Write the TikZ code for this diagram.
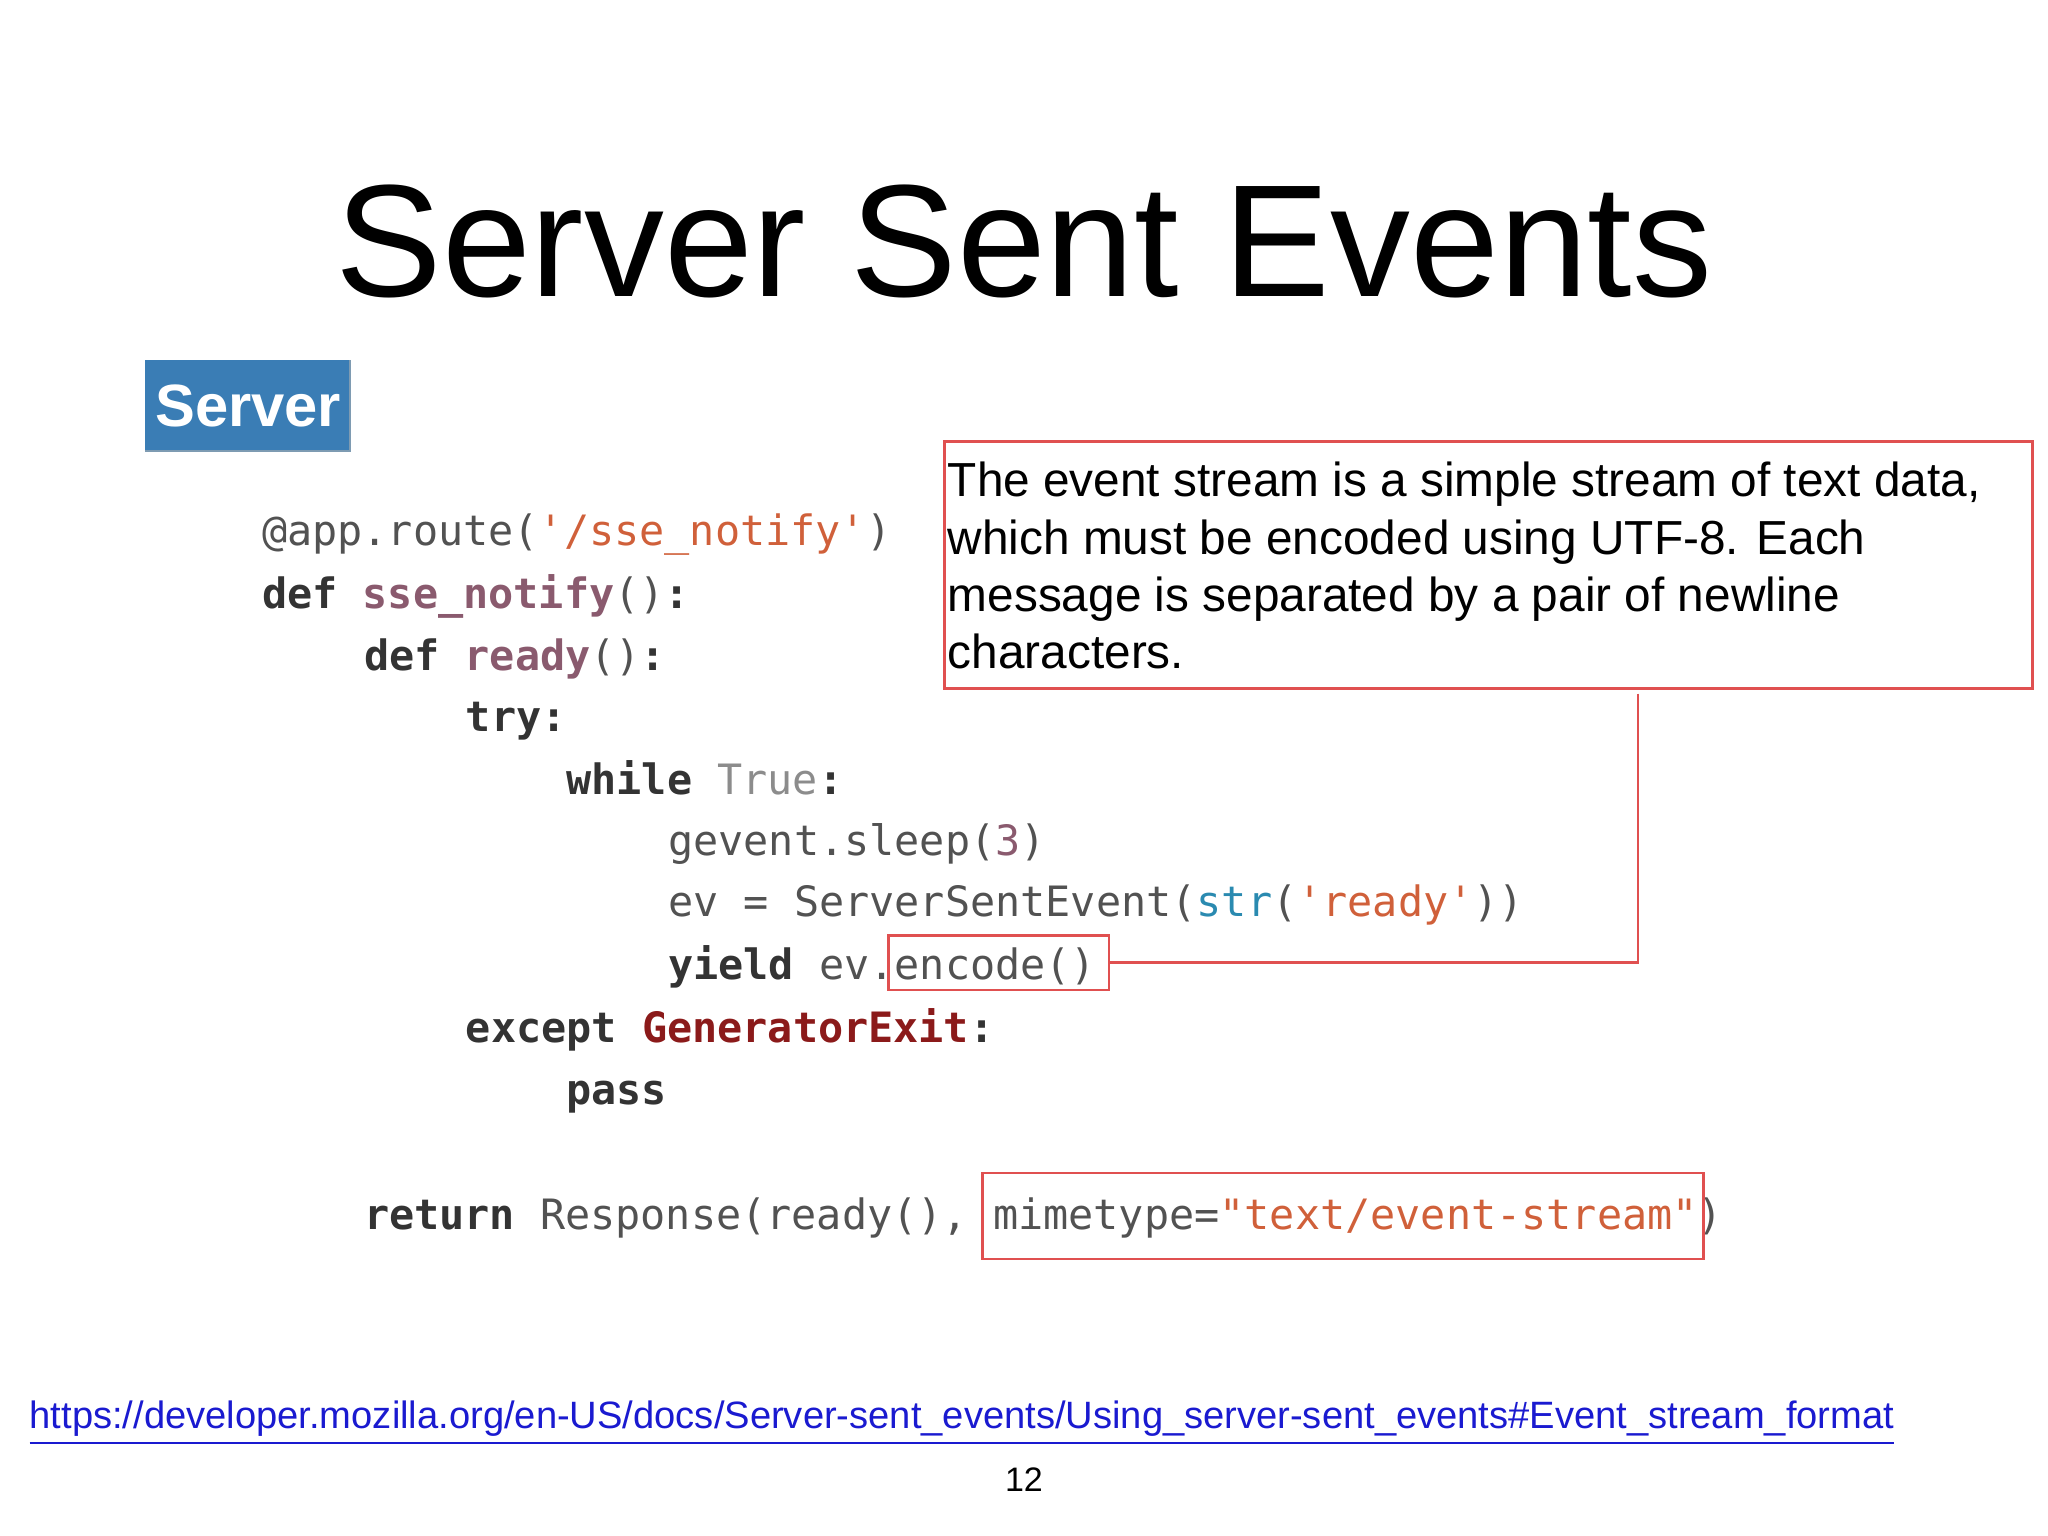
\documentclass[tikz,border=0pt]{standalone}
\usepackage{fontspec}
\setmainfont{Liberation Sans}
\setmonofont{DejaVu Sans Mono}
\definecolor{kw}{HTML}{333333}
\definecolor{strc}{HTML}{D0603A}
\definecolor{fnc}{HTML}{8A5A6E}
\definecolor{truec}{HTML}{8C8C8C}
\definecolor{bic}{HTML}{2A8AB0}
\definecolor{exc}{HTML}{8B1A1A}
\definecolor{srv}{HTML}{3A7DB5}
\definecolor{boxred}{HTML}{E05050}
\definecolor{linkc}{HTML}{1A1AD0}
\newcommand{\K}[1]{\textbf{\color{kw}#1}}
\newcommand{\Sv}[1]{{\color{strc}#1}}
\newcommand{\F}[1]{\textbf{\color{fnc}#1}}
\begin{document}
\begin{tikzpicture}[x=0.01cm,y=-0.01cm,
  code/.style={anchor=base west,inner sep=0,font=\ttfamily\fontsize{9.1}{11}\selectfont,text=kw!85},
  redbox/.style={draw=boxred,line width=0.6pt}]
\useasboundingbox (0,0) rectangle (1568,1176);
\node[font=\fontsize{34.8}{40}\selectfont] (title) at (784,185) {Server Sent Events};
\fill[srv] (111,276) rectangle (268,345);
\draw[srv!70!black!60] (111,345) -- (268,345) -- (268,276);
\node[text=white,font=\bfseries\fontsize{13}{15}\selectfont] (srv) at (190,311) {Server};
\node[code] (l1) at (200,418) {@app.route(\Sv{'/sse\_notify'})};
\node[code] (l2) at (200,466) {\K{def} \F{sse\_notify}()\K{:}};
\node[code] (l3) at (278,513) {\K{def} \F{ready}()\K{:}};
\node[code] (l4) at (356,560) {\K{try:}};
\node[code] (l5) at (433,608) {\K{while} {\color{truec}True}\K{:}};
\node[code] (l6) at (511,655) {gevent.sleep({\color{fnc}3})};
\node[code] (l7) at (511,702) {ev = ServerSentEvent({\color{bic}str}(\Sv{'ready'}))};
\node[code] (l8) at (511,750) {\K{yield} ev.encode()};
\node[code] (l9) at (356,798) {\K{except} \textbf{\color{exc}GeneratorExit}\K{:}};
\node[code] (l10) at (433,846) {\K{pass}};
\node[code] (l11) at (278,941) {\K{return} Response(ready(), mimetype=\Sv{"text/event-stream"})};
\draw[redbox] (723,338) rectangle (1556,527);
\coordinate (noteb) at (1254,531);
\node[anchor=north west,align=left,inner sep=0,font=\fontsize{10.4}{12.5}\selectfont] (notetext) at (725,353) {The event stream is a simple stream of text data,\\which must be encoded using UTF-8. Each\\message is separated by a pair of newline\\characters.};
\draw[redbox] (680,716) rectangle (849,758);
\coordinate (ence) at (849,737);
\draw[redbox] (752,898) rectangle (1304,964);
\coordinate (c1) at (1254,737);
\draw[redbox] (noteb) -- (c1) -- (ence);
\node[font=\fontsize{8.3}{10}\selectfont,text=linkc,anchor=base west,inner sep=0] (url) at (22,1094) {\underline{https://developer.mozilla.org/en-US/docs/Server-sent\_events/Using\_server-sent\_events\#Event\_stream\_format}};
\node[font=\fontsize{7.4}{9}\selectfont] (pg) at (784,1133) {12};
\end{tikzpicture}
\end{document}
